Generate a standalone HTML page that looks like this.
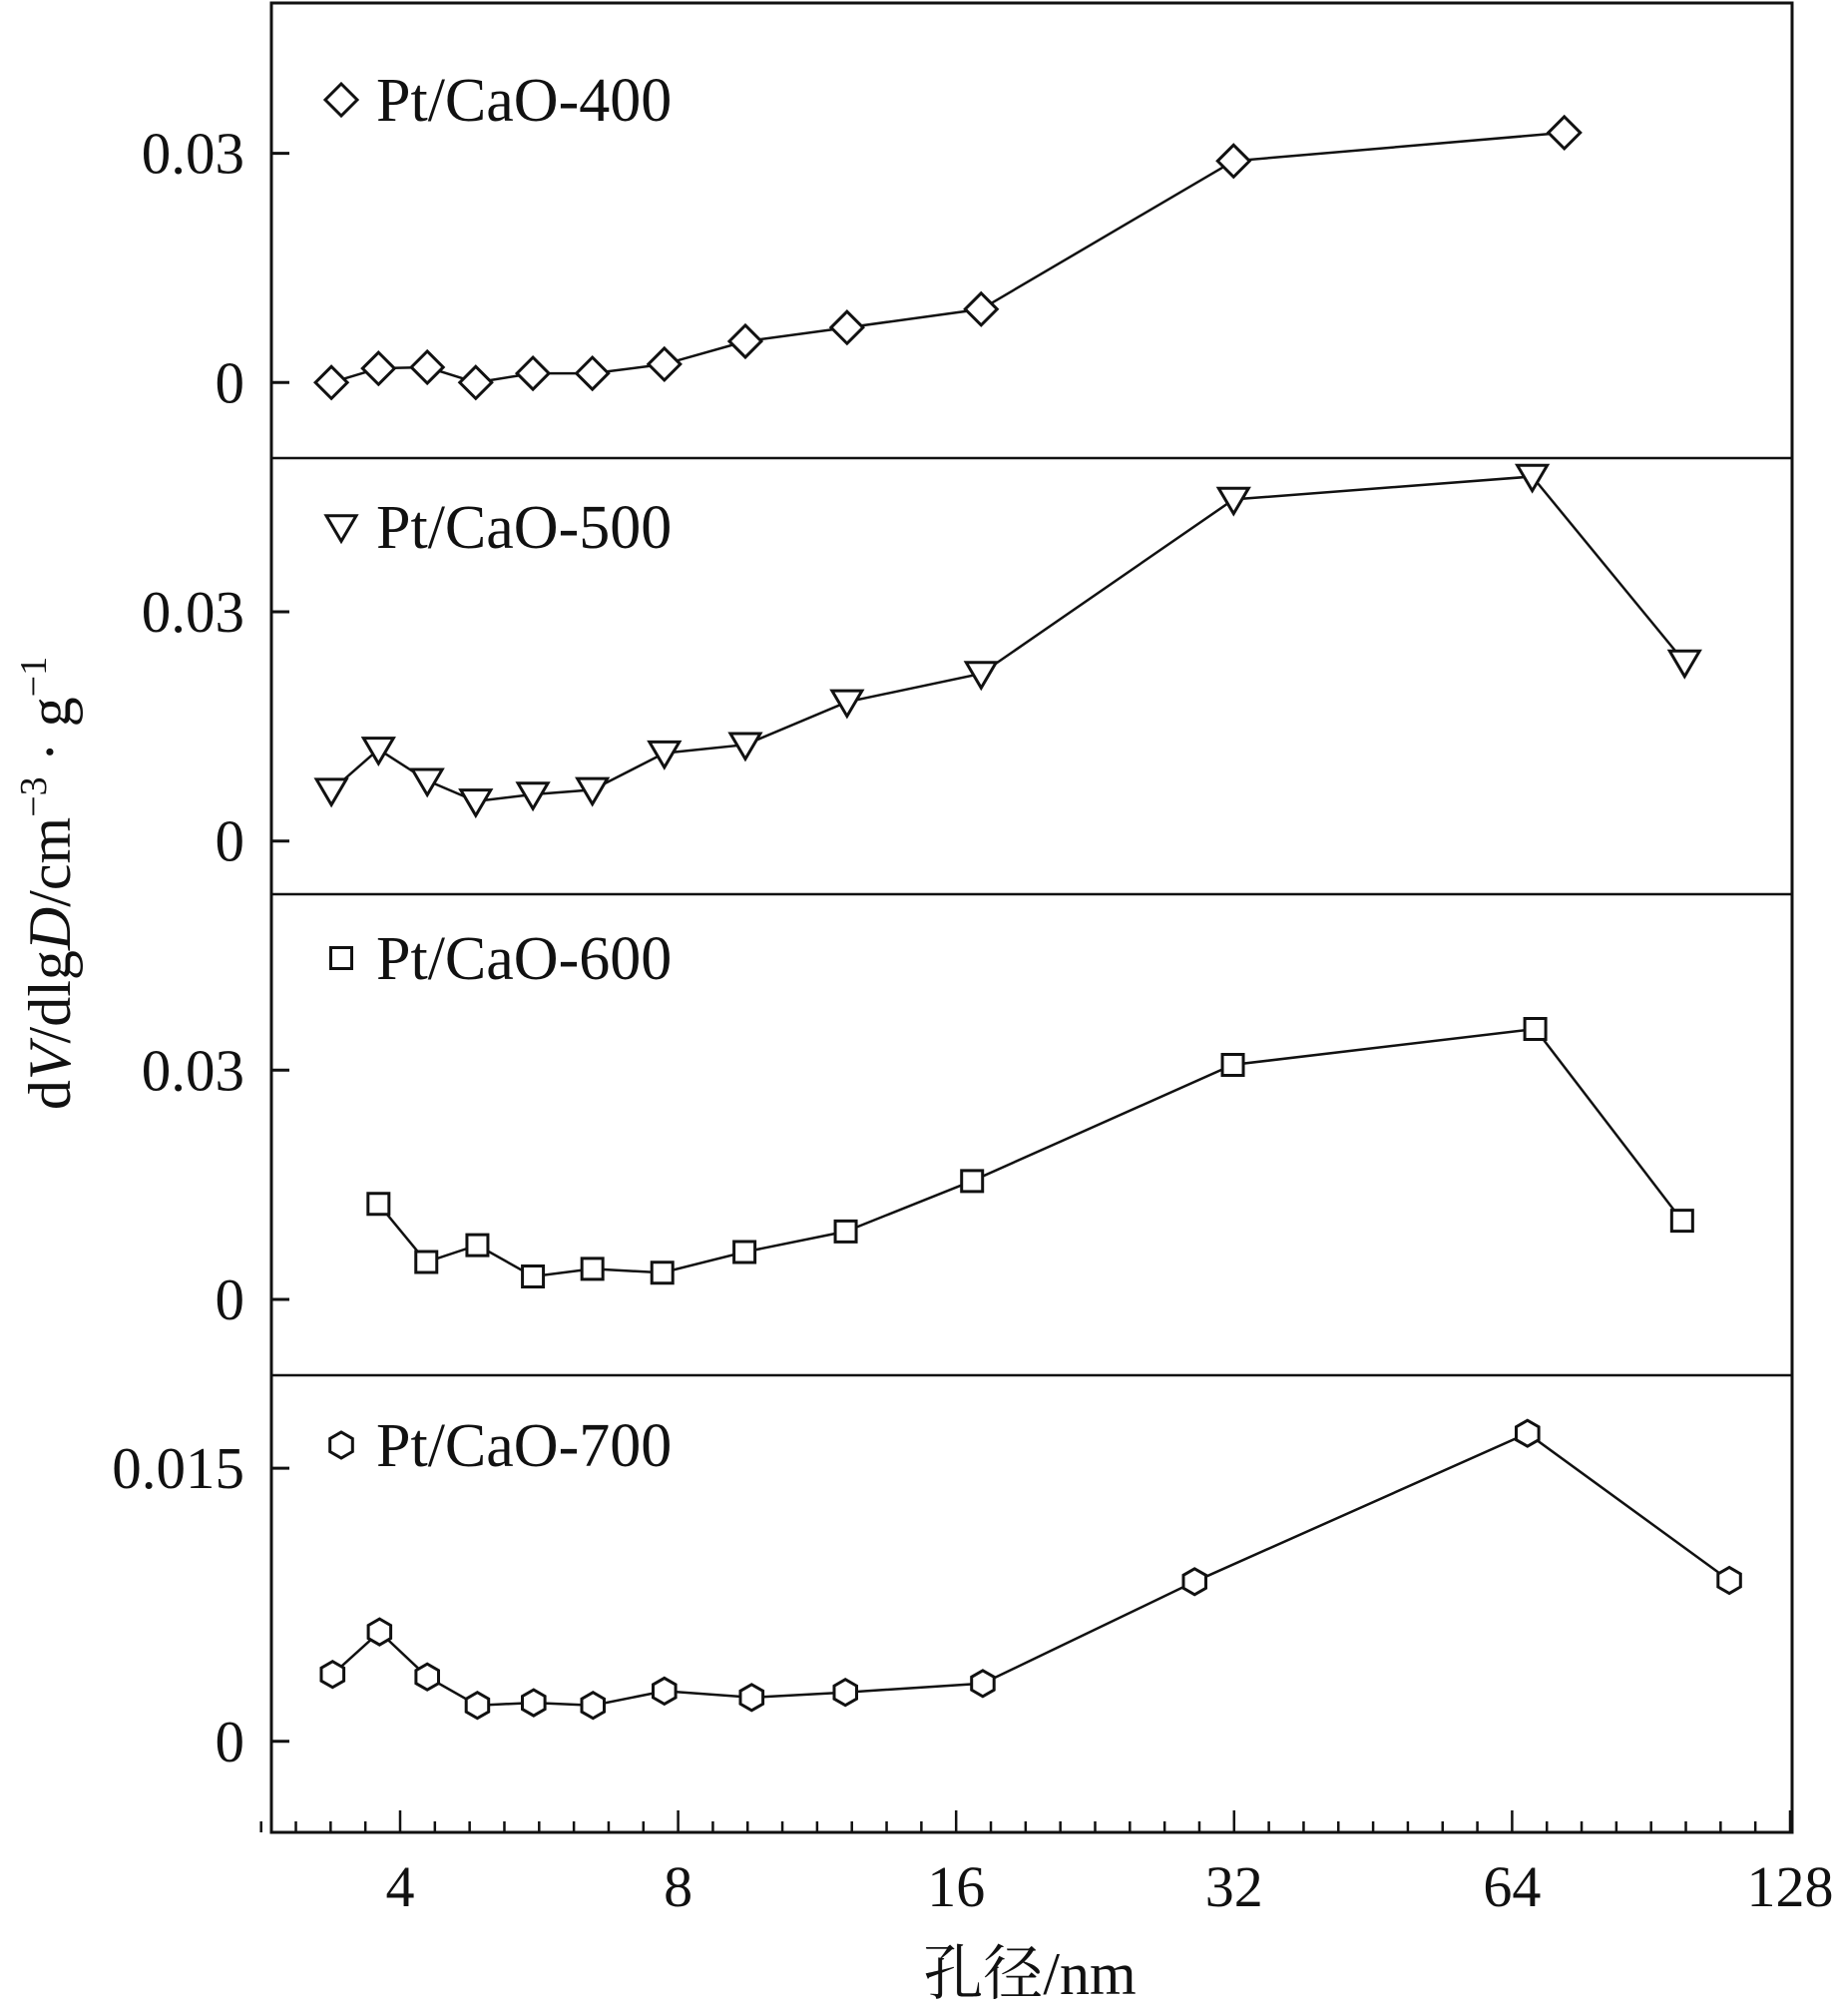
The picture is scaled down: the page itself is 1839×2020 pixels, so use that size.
<!DOCTYPE html>
<html><head><meta charset="utf-8">
<style>
html,body{margin:0;padding:0;background:#fff;}
svg{display:block;}
text{font-family:"Liberation Serif","Noto Serif CJK SC",serif;fill:#111;}
</style></head>
<body>
<svg id="chart" width="1839" height="2020" viewBox="0 0 1839 2020" xmlns="http://www.w3.org/2000/svg"></svg>
<script>
// ---- data ----
const xTickLabels = [4, 8, 16, 32, 64, 128];
const seriesNames = ["Pt/CaO-400", "Pt/CaO-500", "Pt/CaO-600", "Pt/CaO-700"];
const x400 = [3.37, 3.79, 4.28, 4.83, 5.57, 6.46, 7.73, 9.46, 12.19, 17.03, 31.96, 72.9];
const y400 = [0, 0.00185, 0.0020, 0, 0.0012, 0.0012, 0.0024, 0.0054, 0.0072, 0.0096, 0.0290, 0.0327];
const x500 = [3.37, 3.79, 4.28, 4.83, 5.57, 6.46, 7.73, 9.46, 12.19, 17.03, 31.96, 67.3, 98.4];
const y500 = [0.0066, 0.0120, 0.0079, 0.0052, 0.0061, 0.0067, 0.0115, 0.0126, 0.0182, 0.0219, 0.0447, 0.0477, 0.0234];
const x600 = [3.79, 4.27, 4.85, 5.57, 6.46, 7.69, 9.44, 12.15, 16.65, 31.9, 67.8, 97.8];
const y600 = [0.0125, 0.0049, 0.0071, 0.0030, 0.0040, 0.0035, 0.0062, 0.0089, 0.0155, 0.0307, 0.0354, 0.0103];
const x700 = [3.38, 3.80, 4.28, 4.85, 5.58, 6.47, 7.73, 9.61, 12.14, 17.1, 29.0, 66.5, 110];
const y700 = [0.00368, 0.00601, 0.00354, 0.00198, 0.00212, 0.00198, 0.00276, 0.00241, 0.00269, 0.00318, 0.00877, 0.01691, 0.00884];
const yTicks400 = [0, 0.03];
const yTicks500 = [0, 0.03];
const yTicks600 = [0, 0.03];
const yTicks700 = [0, 0.015];
const yTickText400 = ["0", "0.03"];
const yTickText500 = ["0", "0.03"];
const yTickText600 = ["0", "0.03"];
const yTickText700 = ["0", "0.015"];

// ---- layout ----
const NS = "http://www.w3.org/2000/svg";
const svg = document.getElementById("chart");
const L = 272, R = 1796, T = 3, B = 1836;
const X4 = 401, OCT = (1794 - 401) / 5;
function xs(v){ return X4 + Math.log2(v / 4) * OCT; }
const panels = [
  {x:x400, y:y400, ticks:yTicks400, tt:yTickText400, zero:383.3, per:229.7/0.03, marker:"diamond", top:T, bot:459, name:"pt-cao-400"},
  {x:x500, y:y500, ticks:yTicks500, tt:yTickText500, zero:842.7, per:229.7/0.03, marker:"triangle", top:459, bot:896, name:"pt-cao-500"},
  {x:x600, y:y600, ticks:yTicks600, tt:yTickText600, zero:1302, per:229.7/0.03, marker:"square", top:896, bot:1378, name:"pt-cao-600"},
  {x:x700, y:y700, ticks:yTicks700, tt:yTickText700, zero:1744.8, per:273.7/0.015, marker:"hexagon", top:1378, bot:B, name:"pt-cao-700"}
];
function el(tag, attrs, parent){
  const e = document.createElementNS(NS, tag);
  for (const k in attrs) e.setAttribute(k, attrs[k]);
  (parent || svg).appendChild(e);
  return e;
}
function markerPath(type, cx, cy){
  if (type === "diamond"){ const r = 16; return `M${cx},${cy-r}L${cx+r},${cy}L${cx},${cy+r}L${cx-r},${cy}Z`; }
  if (type === "triangle"){ const r = 15; return `M${cx-r},${cy-r*0.75}L${cx+r},${cy-r*0.75}L${cx},${cy+r*0.95}Z`; }
  if (type === "square"){ const r = 10.5; return `M${cx-r},${cy-r}L${cx+r},${cy-r}L${cx+r},${cy+r}L${cx-r},${cy+r}Z`; }
  let d = ""; const r = 13;
  for (let i = 0; i < 6; i++){ const a = Math.PI/6 + i*Math.PI/3; d += (i? "L":"M") + (cx + r*Math.cos(a)).toFixed(1) + "," + (cy + r*Math.sin(a)).toFixed(1); }
  return d + "Z";
}

// frame
const frame = el("rect", {x:L, y:T, width:R-L, height:B-T, fill:"none", stroke:"#111", "stroke-width":3});



panels.forEach((p, pi) => {
  const g = el("g", {});
  
  
  if (pi > 0){
    const sep = el("line", {x1:L, x2:R, y1:p.top, y2:p.top, stroke:"#111", "stroke-width":2.5}, g);
    
    
  }
  const ys = v => p.zero - v * p.per;
  p.ticks.forEach((t, i) => {
    const ty = ys(t);
    const tk = el("line", {x1:L, x2:L+18, y1:ty, y2:ty, stroke:"#111", "stroke-width":3}, g);
    
    
    const lb = el("text", {x:L-27, y:ty+20, "text-anchor":"end", "font-size":59}, g);
    lb.textContent = p.tt[i];
    
    
  });
  let d = "";
  p.x.forEach((xv, i) => { d += (i? "L":"M") + xs(xv).toFixed(1) + "," + ys(p.y[i]).toFixed(1); });
  const line = el("path", {d:d, fill:"none", stroke:"#111", "stroke-width":2.5}, g);
  
  
  p.x.forEach((xv, i) => {
    const m = el("path", {d:markerPath(p.marker, xs(xv), ys(p.y[i])), fill:"#fff", stroke:"#111", "stroke-width":3}, g);
    
    
  });
  // legend
  const legY = [100, 528, 960, 1448][pi];
  const lm = el("path", {d:markerPath(p.marker, 342, legY), fill:"#fff", stroke:"#111", "stroke-width":3}, g);
  
  
  const lt = el("text", {x:377, y:legY+21, "font-size":62}, g);
  lt.textContent = seriesNames[pi];
  
  
});

// x ticks
for (let k = 0; k <= 5*8; k++){
  const v = 4 * Math.pow(2, k/8);
  const x = xs(v);
  const major = k % 8 === 0;
  const t = el("line", {x1:x, x2:x, y1:B, y2:B-(major?22:11), stroke:"#111", "stroke-width":2.5});
  
  
}
for (let k = 1; k <= 4; k++){
  const x = X4 - k * OCT / 8;
  const t = el("line", {x1:x, x2:x, y1:B, y2:B-11, stroke:"#111", "stroke-width":2.5});
  
  
}
xTickLabels.forEach(v => {
  const t = el("text", {x:xs(v), y:1910, "text-anchor":"middle", "font-size":58});
  t.textContent = String(v);
  
  
});
const xt = el("text", {x:1032, y:1998, "text-anchor":"middle", "font-size":60});
xt.textContent = "孔径/nm";



const yt = el("text", {x:0, y:0, "text-anchor":"middle", "font-size":60, transform:"translate(70,885) rotate(-90)"});
yt.innerHTML = 'd<tspan font-style="italic">V</tspan>/dlg<tspan font-style="italic">D</tspan>/cm<tspan font-size="38" dy="-24">−3</tspan><tspan dy="24"> · g</tspan><tspan font-size="38" dy="-24">−1</tspan>';


</script>
</body></html>
